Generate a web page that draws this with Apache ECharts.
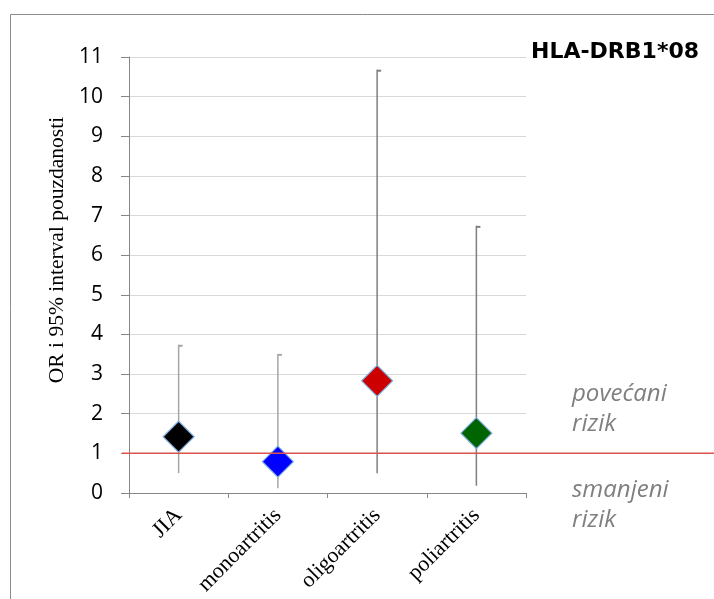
<!DOCTYPE html>
<html>
<head>
<meta charset="utf-8">
<script src="https://cdn.jsdelivr.net/npm/echarts@6/dist/echarts.min.js"></script>
<style>
html,body{margin:0;padding:0;background:#fff;}
#chart{width:714px;height:599px;}
</style>
</head>
<body>
<div id="chart"></div>
<script>
const categories = ['JIA', 'monoartritis', 'oligoartritis', 'poliartritis'];
const orValues = [1.42, 0.79, 2.83, 1.51];
const ciLow = [0.50, 0.12, 0.50, 0.18];
const ciHigh = [3.74, 3.51, 10.68, 6.74];
const markerColors = ['#000000', '#0000ff', '#cc0000', '#006400'];
const barColors = ['#a6a6a6', '#a6a6a6', '#7f7f7f', '#7f7f7f'];
const refValue = 1;
const titleText = 'HLA-DRB1*08';
const yAxisName = 'OR i 95% interval pouzdanosti';
const upperNote = 'povećani\nrizik';
const lowerNote = 'smanjeni\nrizik';

const chart = echarts.init(document.getElementById('chart'), null, {renderer: 'canvas'});

const option = {
  backgroundColor: '#ffffff',
  animation: false,
  title: {
    text: titleText,
    right: 15,
    top: 41,
    padding: 0,
    textStyle: {fontFamily: 'DejaVu Sans', fontWeight: 'bold', fontSize: 22, color: '#000'}
  },
  grid: {left: 129, right: 188, top: 57, bottom: 106, containLabel: false},
  xAxis: {
    type: 'category',
    data: categories,
    boundaryGap: true,
    axisLine: {lineStyle: {color: '#868686', width: 1}},
    axisTick: {show: true, length: 5, interval: 0, lineStyle: {color: '#868686'}},
    axisLabel: {
      interval: 0, rotate: 45, margin: 19,
      fontFamily: 'Liberation Serif', fontSize: 22, color: '#000'
    },
    splitLine: {show: false}
  },
  yAxis: {
    type: 'value',
    min: 0, max: 11, interval: 1,
    name: yAxisName,
    nameLocation: 'middle',
    nameGap: 55,
    nameRotate: 90,
    nameTextStyle: {fontFamily: 'Liberation Serif', fontSize: 21.5, color: '#000', padding: [0, 0, 0, 50]},
    axisLine: {show: true, lineStyle: {color: '#868686', width: 1}},
    axisTick: {show: true, length: 8, lineStyle: {color: '#868686'}},
    axisLabel: {margin: 26, fontFamily: 'Open Sans', fontSize: 21, color: '#000'},
    splitLine: {show: true, lineStyle: {color: '#d9d9d9', width: 1}}
  },
  series: [
    {
      type: 'custom',
      name: 'CI',
      z: 2,
      data: categories.map((c, i) => [i, ciLow[i], ciHigh[i]]),
      encode: {x: 0, y: [1, 2]},
      renderItem: function (params, api) {
        const x = api.value(0);
        const lo = api.coord([x, api.value(1)]);
        const hi = api.coord([x, api.value(2)]);
        const col = barColors[params.dataIndex];
        return {
          type: 'group',
          children: [
            {type: 'line', shape: {x1: lo[0], y1: lo[1], x2: hi[0], y2: hi[1]}, style: {stroke: col, lineWidth: 1.5}},
            {type: 'line', shape: {x1: hi[0], y1: hi[1] + 1, x2: hi[0] + 4, y2: hi[1] + 1}, style: {stroke: col, lineWidth: 2}}
          ]
        };
      }
    },
    {
      type: 'scatter',
      name: 'OR',
      z: 3,
      symbol: 'diamond',
      symbolSize: 31,
      data: orValues.map((v, i) => ({
        value: v,
        itemStyle: {color: markerColors[i], opacity: 1, borderColor: '#7eaee0', borderWidth: 1.2}
      }))
    }
  ]
};

chart.setOption(option);

const refY = chart.convertToPixel({yAxisIndex: 0}, refValue);
chart.setOption({
  graphic: [
    {type: 'rect', shape: {x: 10.5, y: 14.5, width: 720, height: 600}, style: {fill: null, stroke: '#8c8c8c', lineWidth: 1}, z: 0, silent: true},
    {type: 'line', shape: {x1: 122, y1: refY, x2: 714, y2: refY}, style: {stroke: '#d9534f', lineWidth: 1.5}, z: 10},
    {type: 'text', left: 572, top: 379, style: {text: upperNote, font: 'italic 24px "Open Sans"', fill: '#7f7f7f', lineHeight: 30}},
    {type: 'text', left: 572, top: 475, style: {text: lowerNote, font: 'italic 24px "Open Sans"', fill: '#7f7f7f', lineHeight: 30}}
  ]
});
</script>
</body>
</html>
